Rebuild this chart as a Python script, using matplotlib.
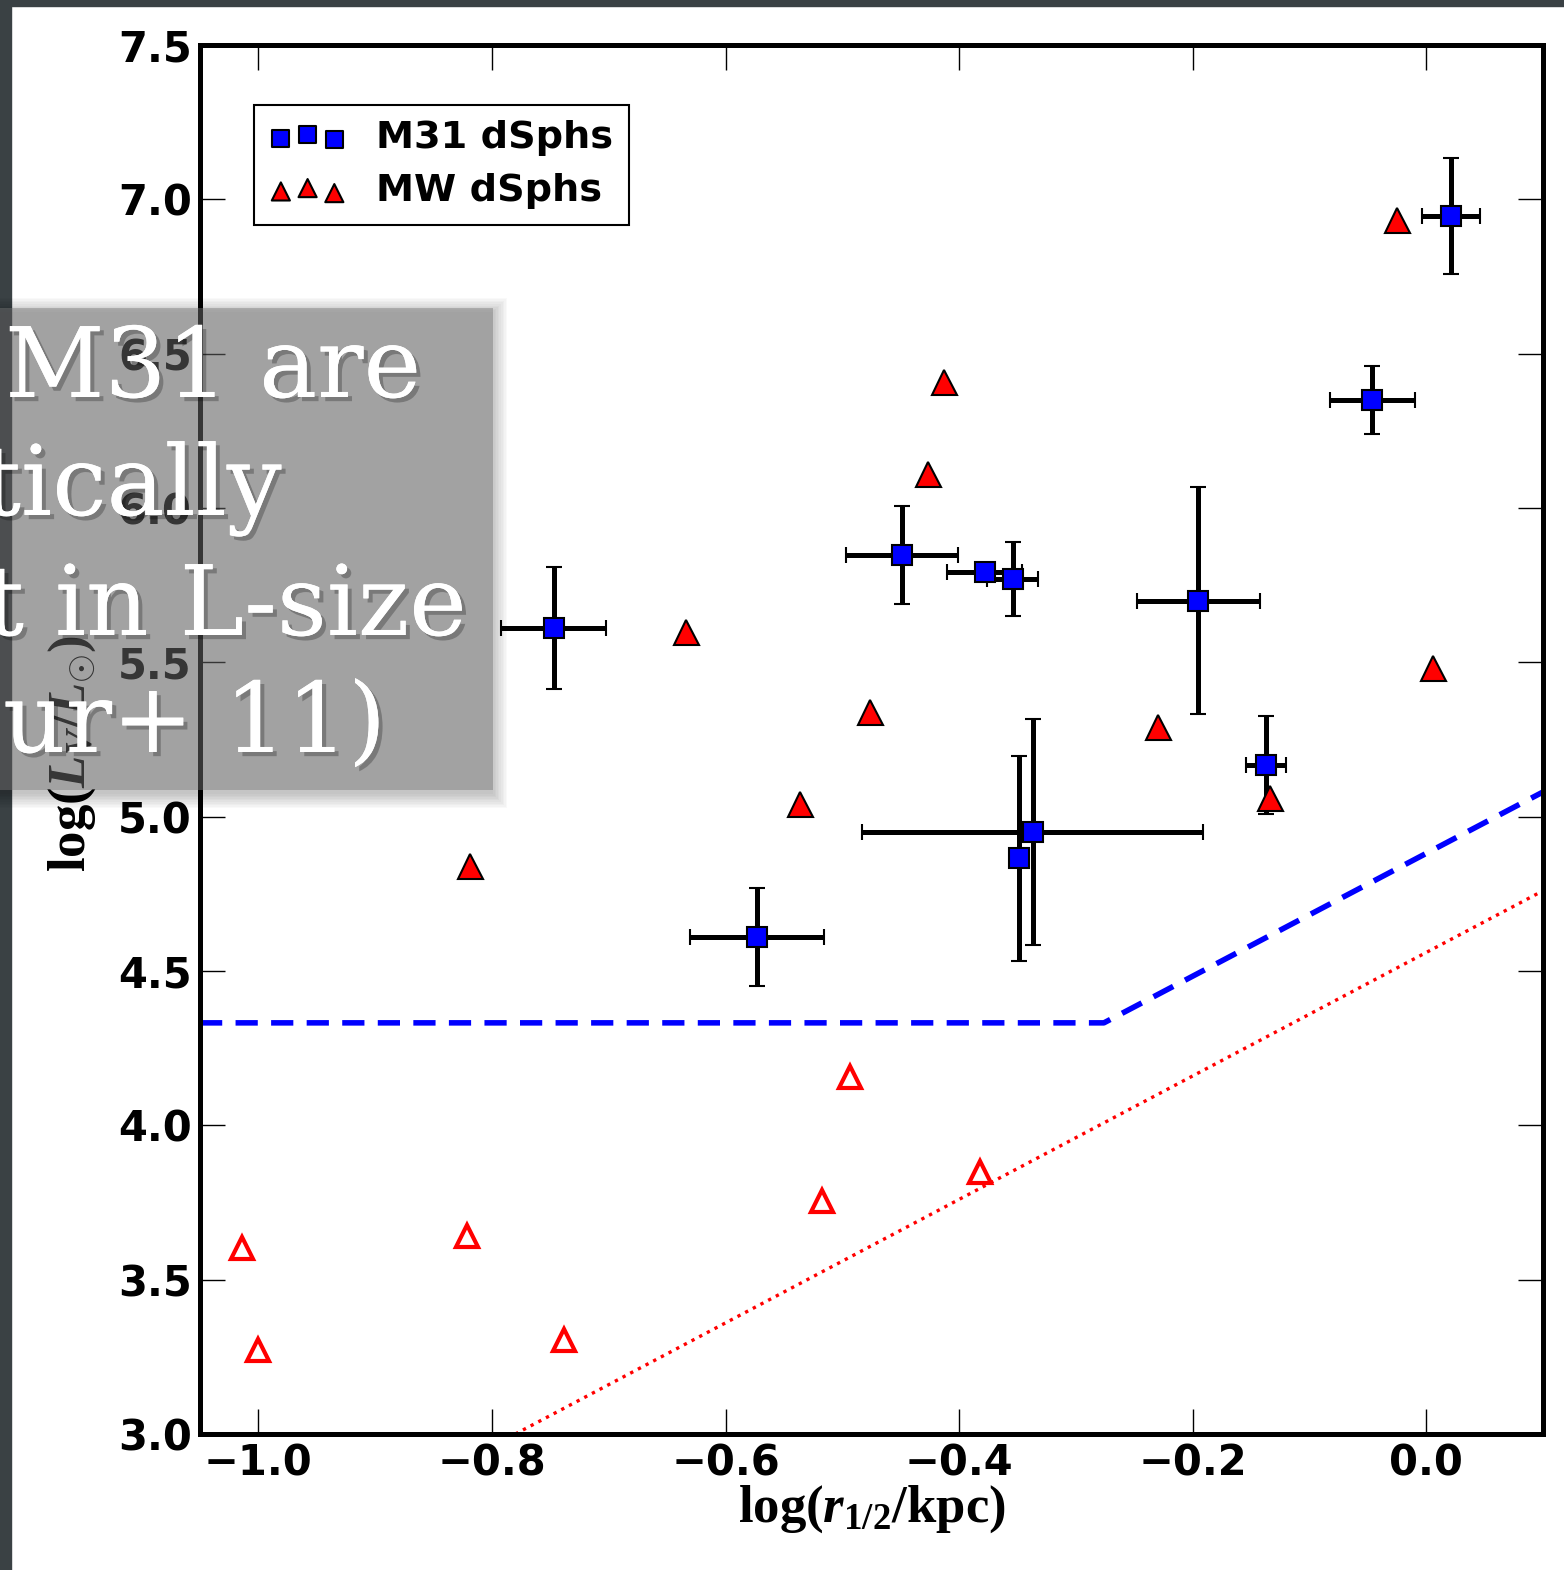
import numpy as np
import matplotlib.pyplot as plt
import matplotlib.patheffects as pe
from matplotlib.patches import Rectangle
from matplotlib.ticker import FuncFormatter

plt.rcParams['font.weight'] = 'bold'
plt.rcParams['mathtext.fontset'] = 'custom'
plt.rcParams['mathtext.rm'] = 'Liberation Serif:bold'
plt.rcParams['mathtext.it'] = 'Liberation Serif:italic:bold'
plt.rcParams['mathtext.bf'] = 'Liberation Serif:bold'

# M31 dSphs: log(r_1/2 / kpc), log(L_V / Lsun) and errors
m31_logr = [0.021, -0.046, -0.449, -0.378, -0.354, -0.195, -0.747, -0.137, -0.337, -0.349, -0.573]
m31_logL = [6.946, 6.350, 5.848, 5.793, 5.770, 5.699, 5.611, 5.168, 4.951, 4.866, 4.610]
m31_rerr = [0.025, 0.036, 0.048, 0.032, 0.022, 0.053, 0.045, 0.017, 0.146, 0.0, 0.057]
m31_Lerr = [0.188, 0.110, 0.159, 0.02, 0.120, 0.368, 0.199, 0.159, 0.366, 0.332, 0.159]

# MW dSphs (classical)
mw_logr = [-0.025, -0.413, -0.427, -0.634, -0.476, -0.230, 0.006, -0.536, -0.134, -0.8185]
mw_logL = [6.933, 6.408, 6.110, 5.598, 5.340, 5.292, 5.482, 5.040, 5.061, 4.840]

# MW ultra-faints (open symbols)
uf_logr = [-0.493, -0.517, -0.382, -1.014, -0.821, -1.000, -0.738]
uf_logL = [4.157, 3.755, 3.849, 3.603, 3.642, 3.273, 3.305]

# detection limits
lim_m31_r = [-1.05, -0.276, 0.10]
lim_m31_L = [4.332, 4.332, 5.08]
lim_mw_r = [-0.78, 0.10]
lim_mw_L = [3.0, 4.76]

W, H = 1564, 1570
fig = plt.figure(figsize=(W / 100, H / 100), dpi=100)
fig.patch.set_facecolor('white')

# slide background strips
bg = '#3a4144'
fig.add_artist(Rectangle((0, 0), 11 / W, 1, transform=fig.transFigure, color=bg, zorder=-5))
fig.add_artist(Rectangle((0, 1 - 6 / H), 1, 6 / H, transform=fig.transFigure, color=bg, zorder=-5))

ax = fig.add_axes([200 / W, (H - 1434) / H, 1343 / W, 1389 / H])

ax.plot(lim_m31_r, lim_m31_L, color='b', lw=4, ls=(0, (4.0, 2.4)), zorder=2)
ax.plot(lim_mw_r, lim_mw_L, color='r', lw=2.4, ls=(0, (1.0, 1.6)), zorder=2)

ax.errorbar(m31_logr, m31_logL, xerr=m31_rerr, yerr=m31_Lerr, fmt='s', mfc='b', mec='k',
            mew=1.5, ms=15, ecolor='k', elinewidth=3.6, capsize=6, capthick=1.2, zorder=3)
ax.plot(mw_logr, mw_logL, '^', mfc='r', mec='k', mew=1.5, ms=18, ls='none', zorder=4)
ax.plot(uf_logr, uf_logL, '^', mfc='none', mec='r', mew=3, ms=16, ls='none', zorder=4)

ax.set_xlim(-1.05, 0.1)
ax.set_ylim(3.0, 7.5)
ax.set_xticks(np.arange(-1.0, 0.01, 0.2))
ax.set_yticks(np.arange(3.0, 7.51, 0.5))
fmt = FuncFormatter(lambda v, p: f'{round(v, 1) + 0.0:.1f}'.replace('-', '\u2212'))
ax.xaxis.set_major_formatter(fmt)
ax.yaxis.set_major_formatter(fmt)
ax.tick_params(direction='in', length=18, width=1, top=True, right=True, labelsize=30, pad=6)
for sp in ax.spines.values():
    sp.set_linewidth(3.6)

ax.set_xlabel(r'$\mathrm{log}(r_{1/2}/\mathrm{kpc})$', fontsize=38)
ax.set_ylabel(r'$\mathrm{log}(L_V/L_{\odot})$', fontsize=38)
ax.xaxis.set_label_coords(0.5, -0.035)
ax.yaxis.set_label_coords(-0.076, 0.49)

# legend proxies
h1 = ax.scatter([], [], marker='s', s=150, c='b', edgecolors='k', linewidths=1.5)
h2 = ax.scatter([], [], marker='^', s=170, c='r', edgecolors='k', linewidths=1.5)
leg = ax.legend([h1, h2], ['M31 dSphs', 'MW dSphs'], loc='upper left',
                bbox_to_anchor=(0.0403, 0.9568), borderaxespad=0, scatterpoints=3,
                scatteryoffsets=[0.375, 0.5, 0.3125], fancybox=False, framealpha=1,
                edgecolor='k', prop={'weight': 'bold', 'size': 27.5},
                labelspacing=0.45, borderpad=0.4, handletextpad=0.8)
leg.get_frame().set_linewidth(1.5)

# gray text box on top of the slide
bx0, bx1, by0, by1 = -20, 493, 308, 790
for i in range(10):
    g = 1.6 * i
    fig.add_artist(Rectangle(((bx0 - g) / W, 1 - (by1 + 4 + g) / H), (bx1 - bx0 + 2 * g) / W,
                             (by1 - by0 + 2 * g) / H, transform=fig.transFigure,
                             color='k', alpha=0.022, lw=0, zorder=9))
fig.add_artist(Rectangle((bx0 / W, 1 - by1 / H), (bx1 - bx0) / W, (by1 - by0) / H,
                         transform=fig.transFigure, color=(0.47, 0.47, 0.47), alpha=0.45,
                         lw=0, zorder=10))

lines = ['M31 are', 'tically', 't in L-size', 'ur+ 11)']
xs = [5, -18, -15, 3]
ys = [397, 515, 635, 752]
shadow = [pe.withSimplePatchShadow(offset=(3, -3), shadow_rgbFace='k', alpha=0.25), pe.Normal()]
for s, x, y in zip(lines, xs, ys):
    fig.text(x / W, 1 - y / H, s, color='white', fontsize=70, family='DejaVu Serif',
             weight='normal', ha='left', va='baseline', zorder=11, path_effects=shadow)

fig.savefig('out.png', dpi=100)
